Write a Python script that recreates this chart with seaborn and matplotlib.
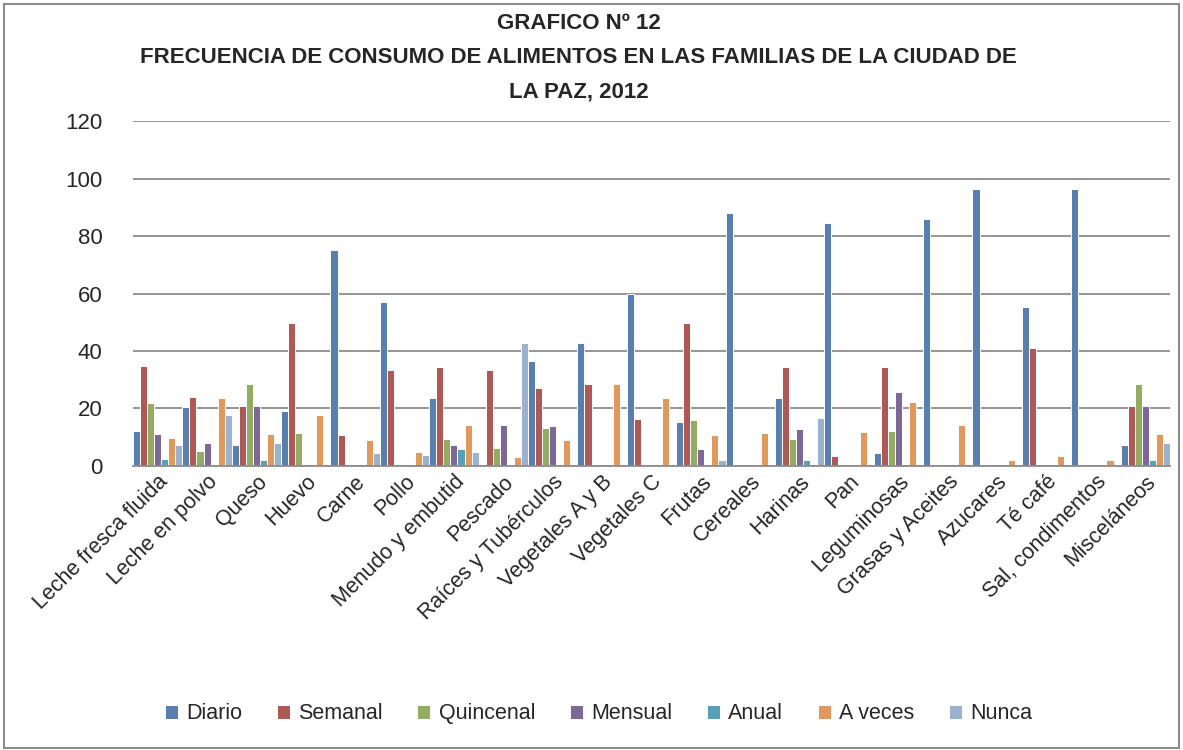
import matplotlib
matplotlib.use("Agg")
import matplotlib.pyplot as plt
import pandas as pd
import seaborn as sns
from matplotlib.patches import Rectangle

categorias = ["Leche fresca fluida", "Leche en polvo", "Queso", "Huevo", "Carne", "Pollo",
              "Menudo y embutid", "Pescado", "Raíces y Tubérculos", "Vegetales A y B",
              "Vegetales C", "Frutas", "Cereales", "Harinas", "Pan", "Leguminosas",
              "Grasas y Aceites", "Azucares", "Té café", "Sal, condimentos", "Misceláneos"]

diario    = [12.0, 20.4, 7.4, 19.0, 75.3, 57.1, 23.6, 0, 36.5, 42.7, 60.0, 15.1, 88.2, 23.6, 84.7, 4.3, 86.0, 96.5, 55.3, 96.5, 7.4]
semanal   = [34.7, 23.9, 20.8, 49.9, 10.7, 33.3, 34.4, 33.3, 27.1, 28.5, 16.4, 49.9, 0, 34.4, 3.5, 34.4, 0, 0, 41.0, 0, 20.8]
quincenal = [21.7, 5.2, 28.5, 11.4, 0, 0, 9.3, 6.2, 13.2, 0, 0, 15.9, 0, 9.3, 0, 12.0, 0, 0, 0, 0, 28.5]
mensual   = [11.0, 7.9, 20.8, 0.7, 0, 0, 7.1, 14.2, 13.7, 0, 0, 5.7, 0, 12.8, 0, 25.8, 0, 0, 0, 0, 20.8]
anual     = [2.5, 0, 2.1, 0, 0, 0, 5.7, 0, 0, 0, 0, 0, 0, 2.1, 0, 0, 0, 0, 0, 0, 2.0]
a_veces   = [9.8, 23.5, 11.0, 17.7, 8.8, 4.8, 14.2, 3.0, 8.8, 28.5, 23.6, 10.6, 11.4, 0, 11.8, 22.2, 14.2, 2.0, 3.5, 2.0, 11.0]
nunca     = [7.4, 17.7, 7.9, 0, 4.4, 3.9, 4.8, 42.7, 0, 0, 0, 2.1, 0, 16.8, 0, 0, 0, 0.7, 0, 0.7, 7.9]

series = ["Diario", "Semanal", "Quincenal", "Mensual", "Anual", "A veces", "Nunca"]
colores = ["#4A7EBB", "#BE4B48", "#98B954", "#7D60A0", "#46AAC5", "#F79646", "#93B1D6"]

rows = []
for nombre, vals in zip(series, [diario, semanal, quincenal, mensual, anual, a_veces, nunca]):
    for c, v in zip(categorias, vals):
        rows.append([c, v, nombre])
df = pd.DataFrame(rows, columns=["Alimento", "Valor", "Frecuencia"])

sns.set_style("white")
plt.rcParams["font.family"] = ["Liberation Sans Narrow", "Liberation Sans", "DejaVu Sans"]

fig = plt.figure(figsize=(11.83, 7.5), dpi=100)
ax = fig.add_axes([0.1124, 0.379, 0.8766, 0.4593])

sns.barplot(data=df, x="Alimento", y="Valor", hue="Frecuencia", order=categorias,
            hue_order=series, palette=colores, width=1.0, dodge=True, ax=ax,
            edgecolor="white", linewidth=0.7, legend=True)

ax.set_ylim(0, 120)
ax.set_yticks(range(0, 121, 20))
ax.set_xlim(-0.5, len(categorias) - 0.5)
ax.yaxis.grid(True, color="#8c8c8c", linewidth=1.3)
ax.set_axisbelow(True)
for s in ["top", "right", "left"]:
    ax.spines[s].set_visible(False)
ax.spines["bottom"].set_color("#8c8c8c")
ax.spines["bottom"].set_linewidth(1.3)
ax.tick_params(axis="y", labelsize=16, length=0, pad=22)
ax.tick_params(axis="x", labelsize=15.5, length=0, pad=4)
ax.set_xticks(range(len(categorias)))
ax.set_xticklabels(categorias, rotation=45, ha="right", rotation_mode="anchor")
ax.set_xlabel("")
ax.set_ylabel("")

leg = ax.legend(loc="center", bbox_to_anchor=(0.449, -0.72), ncol=7, frameon=False,
                fontsize=15.5, handlelength=0.6, handleheight=0.6, handletextpad=0.4,
                columnspacing=1.6)

titulo = ["GRAFICO Nº 12",
          "FRECUENCIA DE CONSUMO DE ALIMENTOS EN LAS FAMILIAS DE LA CIUDAD DE",
          "LA PAZ, 2012"]
for i, linea in enumerate(titulo):
    fig.text(0.489, 0.969 - i * 0.046, linea, ha="center", va="center",
             fontsize=16, fontweight="bold")

fig.patches.append(Rectangle((0.003, 0.003), 0.994, 0.992, transform=fig.transFigure,
                             fill=False, edgecolor="#8c8c8c", linewidth=1.5))

fig.savefig("out.png", dpi=100)
